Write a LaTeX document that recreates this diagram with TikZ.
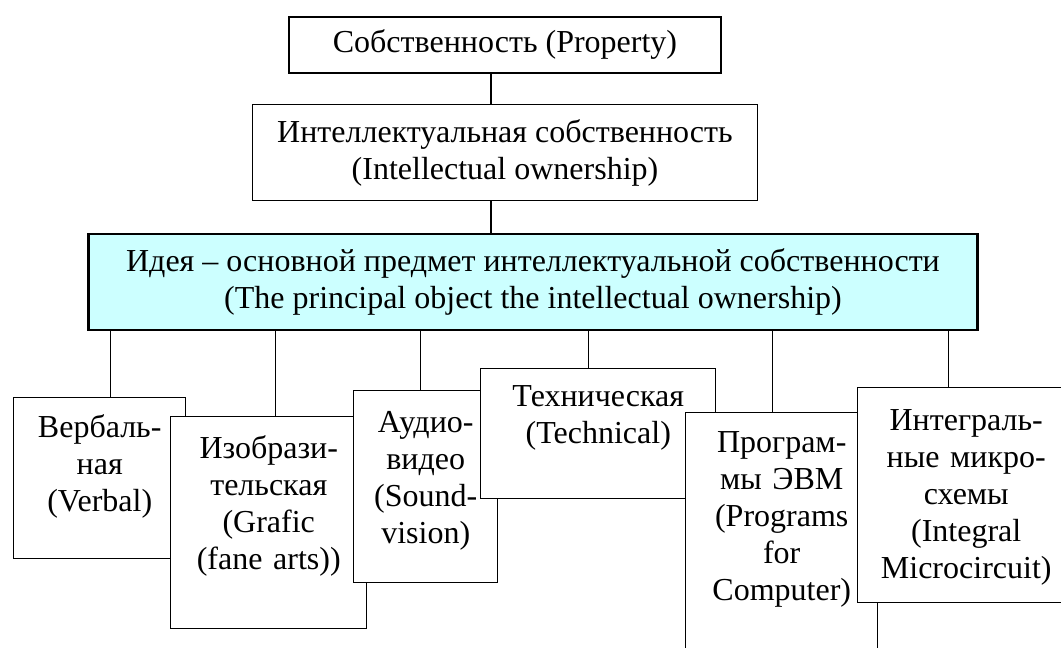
\documentclass[tikz,border=0pt]{standalone}
\usepackage{fontspec}
\setmainfont{Liberation Serif}
\usetikzlibrary{positioning}
\definecolor{ideacyan}{RGB}{204,255,255}

\begin{document}
\begin{tikzpicture}[
    x=0.75pt, y=-0.75pt,
    box/.style={
        rectangle,
        draw=black,
        line width=1.1pt,
        fill=white,
        inner sep=0pt,
        align=center,
        font=\fontsize{24}{27.75}\selectfont
    },
    kind/.style={
        box,
        anchor=north west
    },
    link/.style={line width=1pt}
]
    \useasboundingbox (0,0) rectangle (1061,648);
    \clip (0,0) rectangle (1061,648);

    % Upper levels
    \node[box, minimum width=324pt, minimum height=42pt] (prop) at (505,45) {Собственность (Property)};
    \node[box, minimum width=378.75pt, minimum height=72pt, below=22.5pt of prop] (intel) {Интеллектуальная собственность\\(Intellectual ownership)};
    \node[box, fill=ideacyan, line width=1.6pt, minimum width=666.75pt, minimum height=72pt, below=24pt of intel, xshift=21pt] (idea) {Идея – основной предмет интеллектуальной собственности\\(The principal object the intellectual ownership)};

    % Kinds of ideas (each one overlaps the one before)
    \node[kind, text width=129pt, text height=30pt, text depth=90.75pt] (verbal) at (13,397) {Вербаль-\\ная\\(Verbal)};
    \node[kind, text width=147pt, text height=31pt, text depth=128pt] (izo) at (170,416) {Изобрази-\\тельская\\(Grafic\\(fane arts))};
    \node[kind, text width=108pt, text height=31pt, text depth=113pt] (audio) at (353,390) {Аудио-\\видео\\(Sound-\\vision)};
    \node[kind, text width=176.25pt, text height=28pt, text depth=69.5pt] (tech) at (480,368) {Техническая\\(Technical)};
    \node[kind, text width=144pt, text height=30pt, text depth=171pt] (prog) at (685,412) {Програм-\\мы ЭВМ\\(Programs\\for\\Computer)};
    \node[kind, text width=162.75pt, text height=32pt, text depth=129.25pt] (integ) at (857,387) {Интеграль-\\ные микро-\\схемы\\(Integral\\Microcircuit)};

    % Links
    \draw[link] ([xshift=-10.5pt]prop.south) -- ([xshift=-10.5pt]prop.south |- intel.north);
    \draw[link] ([xshift=-10.5pt]intel.south) -- ([xshift=-10.5pt]intel.south |- idea.north);
    \foreach \b/\dx in {verbal/8.25pt, izo/5.25pt, audio/-3.75pt, tech/-7.1pt, prog/-6.75pt, integ/-13.1pt}
        \draw[link] ([xshift=\dx]\b.north) -- ([xshift=\dx]\b.north |- idea.south);
\end{tikzpicture}
\end{document}
